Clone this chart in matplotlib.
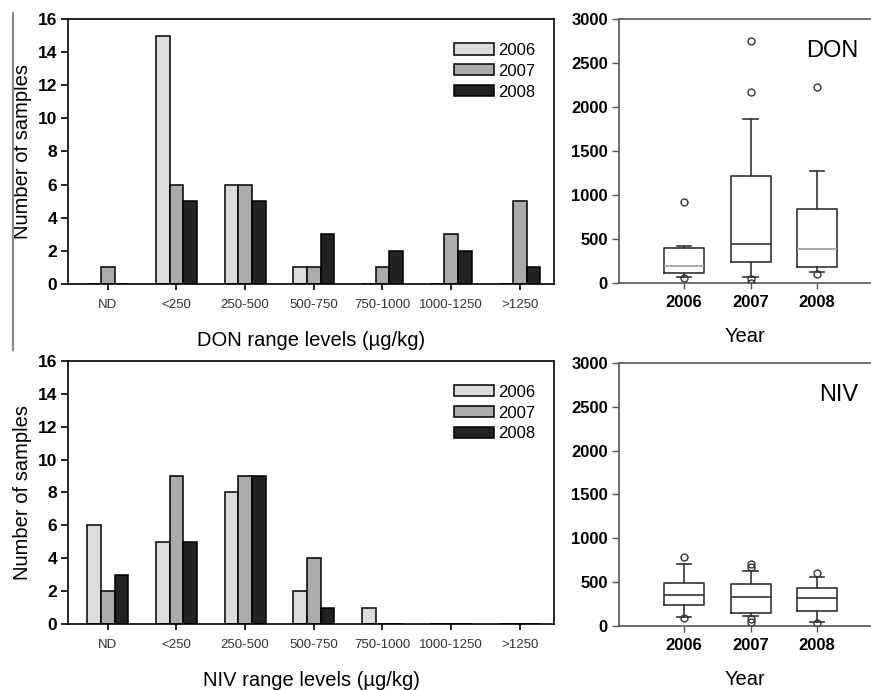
import numpy as np
import matplotlib
matplotlib.use('Agg')
import matplotlib.pyplot as plt
from matplotlib.lines import Line2D

plt.rcParams['font.family'] = ['Liberation Sans', 'DejaVu Sans']

# bar chart data
ranges = ['ND', '<250', '250-500', '500-750', '750-1000', '1000-1250', '>1250']
years = ['2006', '2007', '2008']
don_2006 = [0, 15, 6, 1, 0, 0, 0]
don_2007 = [1, 6, 6, 1, 1, 3, 5]
don_2008 = [0, 5, 5, 3, 2, 2, 1]
niv_2006 = [6, 5, 8, 2, 1, 0, 0]
niv_2007 = [2, 9, 9, 4, 0, 0, 0]
niv_2008 = [3, 5, 9, 1, 0, 0, 0]

# box plot data (ug/kg)
don_q1 = [110, 235, 185]
don_med = [195, 447, 390]
don_q3 = [401, 1219, 841]
don_lo = [72, 72, 128]
don_hi = [424, 1863, 1269]
don_fliers = [[917, 60], [2746, 2166, 42, 0], [2222, 102]]
niv_q1 = [240, 145, 171]
niv_med = [354, 335, 316]
niv_q3 = [494, 476, 437]
niv_lo = [99, 114, 49]
niv_hi = [707, 631, 555]
niv_fliers = [[790, 95], [707, 677, 76, 49], [601, 30]]

colors = ['#dcdcdc', '#ababab', '#222222']


def bar_panel(ax, series, xlabel):
    x = np.arange(len(ranges))
    w = 0.2
    for i, (vals, yr) in enumerate(zip(series, years)):
        ax.bar(x + (i - 1) * w, vals, w, color=colors[i], edgecolor='black',
               linewidth=1.1, label=yr)
    ax.set_xlim(-0.58, 6.5)
    ax.set_ylim(0, 16)
    ax.set_yticks(range(0, 17, 2))
    ax.set_xticks(x)
    ax.set_xticklabels(ranges, fontsize=9.5, color='#333333')
    for lab in ax.get_yticklabels():
        lab.set_fontsize(12.5)
        lab.set_fontweight('bold')
    ax.tick_params(axis='x', length=4, width=1.2, pad=7)
    ax.tick_params(axis='y', length=5, width=1.2, pad=3)
    for s in ax.spines.values():
        s.set_linewidth(1.2)
    ax.set_ylabel('Number of samples', fontsize=14.5, labelpad=4)
    ax.set_xlabel(xlabel, fontsize=14.5, labelpad=14)
    ax.legend(loc='upper right', bbox_to_anchor=(0.975, 0.935), frameon=False,
              fontsize=12, handlelength=2.4, handleheight=0.65,
              labelspacing=0.35, handletextpad=0.25, borderaxespad=0)


def box_panel(ax, q1, med, q3, lo, hi, fliers, name, med_colors):
    stats = []
    for i in range(len(years)):
        stats.append(dict(q1=q1[i], med=med[i], q3=q3[i], whislo=lo[i],
                          whishi=hi[i], fliers=fliers[i], label=years[i]))
    bp = ax.bxp(stats, positions=[1, 2, 3], widths=0.6, capwidths=0.22,
                boxprops=dict(color='#333333', linewidth=1.2),
                whiskerprops=dict(color='#333333', linewidth=1.2),
                capprops=dict(color='#333333', linewidth=1.2),
                medianprops=dict(color='#333333', linewidth=1.2),
                flierprops=dict(marker='o', markersize=5, markerfacecolor='none',
                                markeredgecolor='#333333', markeredgewidth=1.0))
    for m, c in zip(bp['medians'], med_colors):
        m.set_color(c)
    ax.set_xlim(0.02, 3.81)
    ax.set_ylim(0, 3000)
    ax.set_yticks(range(0, 3001, 500))
    for lab in ax.get_yticklabels():
        lab.set_fontsize(12)
        lab.set_fontweight('bold')
    for lab in ax.get_xticklabels():
        lab.set_fontsize(12)
        lab.set_fontweight('bold')
    ax.tick_params(axis='x', length=4, width=1.0, color='#555555', pad=5)
    ax.tick_params(axis='y', length=5, width=1.0, color='#555555', pad=3)
    ax.spines['right'].set_visible(False)
    for s in ['left', 'top', 'bottom']:
        ax.spines[s].set_color('#555555')
        ax.spines[s].set_linewidth(1.2)
    ax.set_xlabel('Year', fontsize=14.5, labelpad=12)
    ax.text(0.95, 0.88, name, transform=ax.transAxes, ha='right', va='center',
            fontsize=17)


fig = plt.figure(figsize=(8.71, 6.9), dpi=100)

ax1 = fig.add_axes([0.0781, 0.5884, 0.558, 0.3841])
bar_panel(ax1, [don_2006, don_2007, don_2008], 'DON range levels (\u00b5g/kg)')
ax2 = fig.add_axes([0.0781, 0.0957, 0.558, 0.3812])
bar_panel(ax2, [niv_2006, niv_2007, niv_2008], 'NIV range levels (\u00b5g/kg)')

ax3 = fig.add_axes([0.7107, 0.5899, 0.2893, 0.3826])
box_panel(ax3, don_q1, don_med, don_q3, don_lo, don_hi, don_fliers, 'DON',
          ['#999999', '#333333', '#999999'])
ax4 = fig.add_axes([0.7107, 0.0928, 0.2893, 0.3812])
box_panel(ax4, niv_q1, niv_med, niv_q3, niv_lo, niv_hi, niv_fliers, 'NIV',
          ['#333333', '#333333', '#333333'])

# stray vertical rule on the left edge of the original figure
fig.add_artist(Line2D([13 / 871, 13 / 871], [1 - 13 / 690, 1 - 350 / 690],
                      color='#888888', linewidth=1.5))

fig.savefig('out.png', dpi=100)
